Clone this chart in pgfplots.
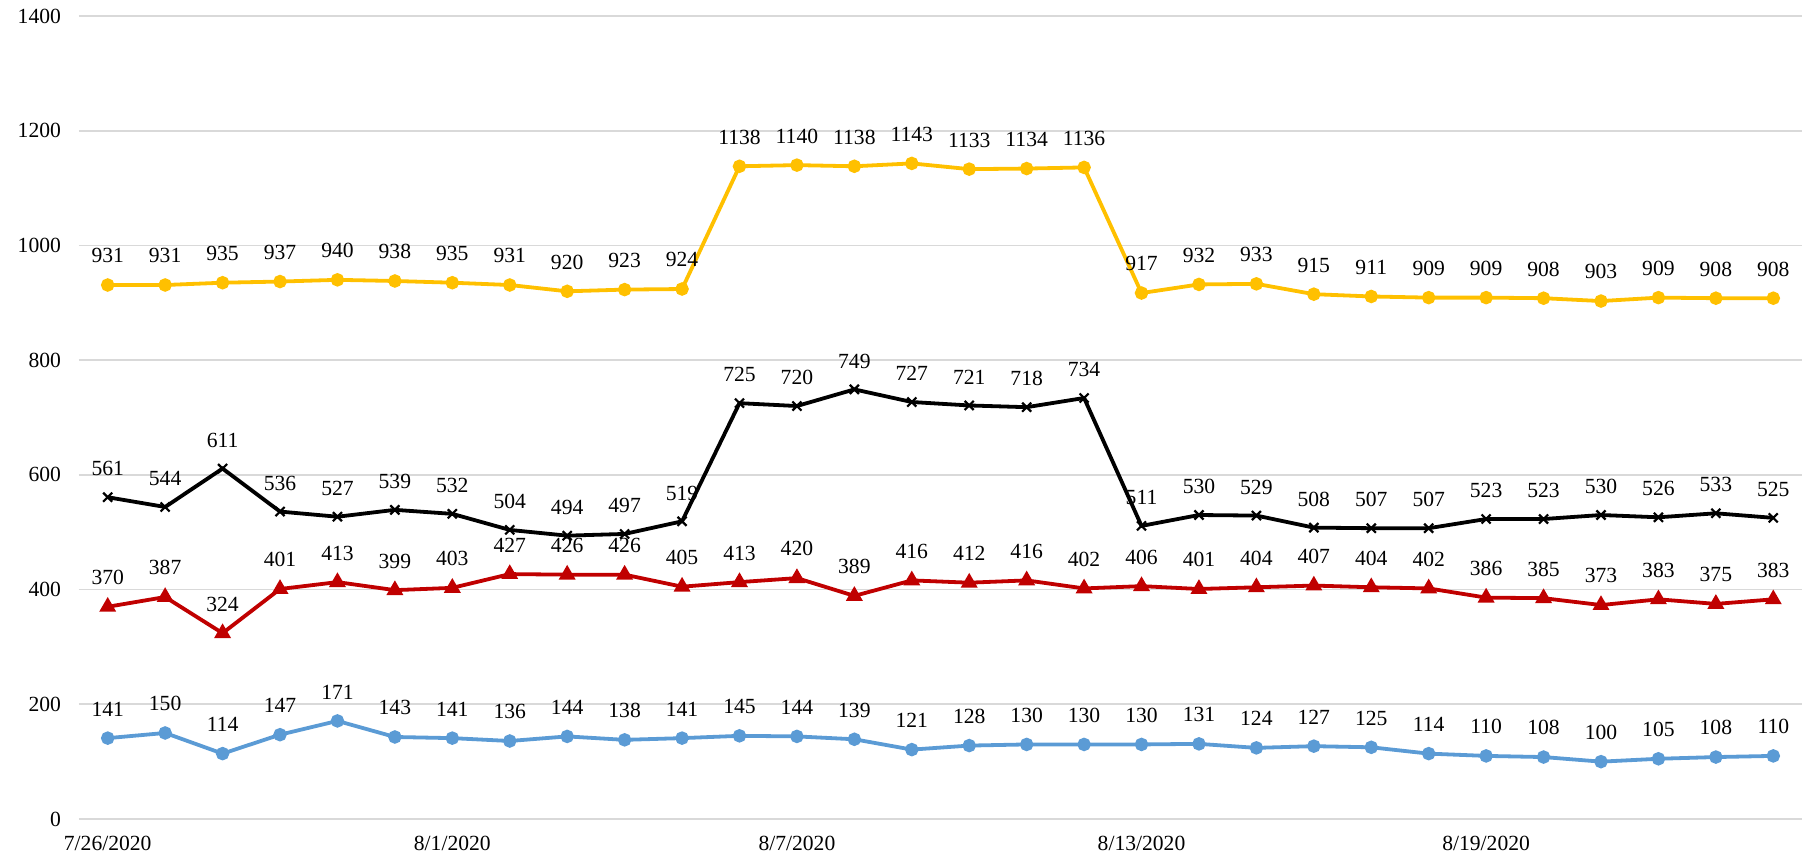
\documentclass[border=0pt]{standalone}
\usepackage{fontspec}
\setmainfont{Liberation Serif}
\usepackage{pgfplots}
\usepackage{pgfplotstable}
\pgfplotsset{compat=1.18}
\definecolor{cy}{HTML}{FFC000}
\definecolor{cr}{HTML}{C00000}
\definecolor{cb}{HTML}{5B9BD5}
\definecolor{cg}{HTML}{D9D9D9}
\pgfplotstableread{
x y b r bl
0 931 561 370 141
1 931 544 387 150
2 935 611 324 114
3 937 536 401 147
4 940 527 413 171
5 938 539 399 143
6 935 532 403 141
7 931 504 427 136
8 920 494 426 144
9 923 497 426 138
10 924 519 405 141
11 1138 725 413 145
12 1140 720 420 144
13 1138 749 389 139
14 1143 727 416 121
15 1133 721 412 128
16 1134 718 416 130
17 1136 734 402 130
18 917 511 406 130
19 932 530 401 131
20 933 529 404 124
21 915 508 407 127
22 911 507 404 125
23 909 507 402 114
24 909 523 386 110
25 908 523 385 108
26 903 530 373 100
27 909 526 383 105
28 908 533 375 108
29 908 525 383 110
}\data
\begin{document}
\begin{tikzpicture}
\begin{axis}[name=ax, scale only axis, width=861.5pt, height=401.5pt,
  xmin=-0.5, xmax=29.5, ymin=0, ymax=1400,
  ytick={0,200,...,1400},
  xtick={0,6,12,18,24},
  xticklabels={7/26/2020,8/1/2020,8/7/2020,8/13/2020,8/19/2020},
  ymajorgrids, grid style={draw=cg, line width=0.8pt},
  axis line style={draw=none}, major tick length=0pt,
  tick label style={font=\fontsize{10.8}{12}\selectfont, text=black},
  yticklabel style={xshift=-5.5pt},
  xticklabel style={yshift=-5pt},
  /pgf/number format/.cd, 1000 sep={}, assume math mode=true,
  /pgfplots/.cd,
  nodes near coords,
  every node near coord/.append style={font=\fontsize{10.8}{12}\selectfont, text=black, anchor=south, inner sep=0pt, yshift=10pt},
  clip=false,
  every axis plot/.append style={line width=1.9pt},
]
\addplot[cy, mark=*, mark size=2.4pt] table[x=x,y=y] {\data};
\addplot[black, mark=x, mark size=3.2pt, mark options={line width=1.1pt}] table[x=x,y=b] {\data};
\addplot[cr, mark=triangle*, mark size=3pt] table[x=x,y=r] {\data};
\addplot[cb, mark=*, mark size=2.4pt] table[x=x,y=bl] {\data};
\end{axis}
\pgfresetboundingbox
\path ([shift={(-39.5pt,-19pt)}]ax.south west) rectangle ([shift={(5pt,8pt)}]ax.north east);
\end{tikzpicture}
\end{document}
